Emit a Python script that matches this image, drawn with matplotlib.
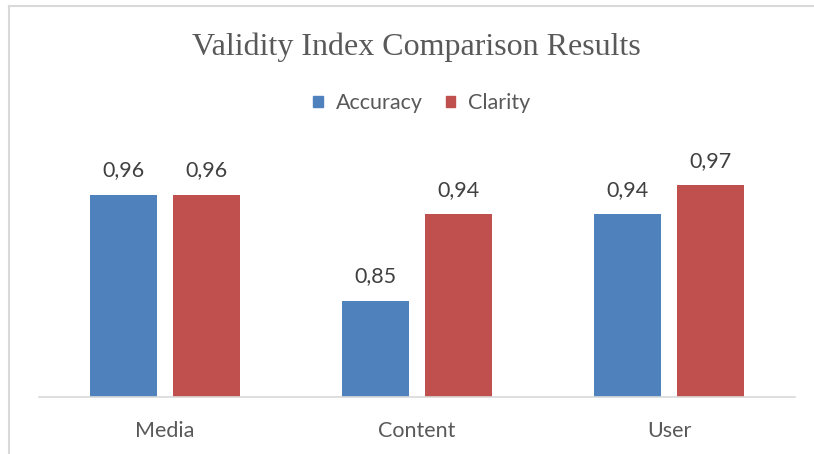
import numpy as np
import matplotlib.pyplot as plt
from matplotlib.patches import Rectangle
from matplotlib.lines import Line2D

# Chart data
categories = ["Media", "Content", "User"]
accuracy = [0.96, 0.85, 0.94]
clarity = [0.96, 0.94, 0.97]
series_names = ["Accuracy", "Clarity"]

blue = "#4F81BD"
red = "#C0504D"
label_font = "Lato"
fs = 15.5

fig = plt.figure(figsize=(8.14, 4.54), dpi=100)

# chart frame (top and left edges visible, rest cut off)
fig.add_artist(Line2D([9/814, 9/814], [0, 1 - 6/454], color="#d9d9d9", lw=1.5))
fig.add_artist(Line2D([9/814, 1], [1 - 6/454, 1 - 6/454], color="#d9d9d9", lw=1.5))

ax = fig.add_axes([39/814, 57/454, 756/814, 241/454])

x = np.arange(len(categories))
w = 0.266
off = 0.165
b1 = ax.bar(x - off, accuracy, w, color=blue, zorder=2)
b2 = ax.bar(x + off, clarity, w, color=red, zorder=2)

ax.set_xlim(-0.5, 2.5)
ax.set_ylim(0.75, 1.0)

for bars, vals in [(b1, accuracy), (b2, clarity)]:
    for rect, v in zip(bars, vals):
        ax.text(rect.get_x() + rect.get_width() / 2, v + 0.025,
                f"{v:.2f}".replace(".", ","), ha="center", va="center",
                fontsize=fs, color="#404040", family=label_font)

for s in ["top", "right", "left"]:
    ax.spines[s].set_visible(False)
ax.spines["bottom"].set_color("#d9d9d9")
ax.spines["bottom"].set_linewidth(1.2)
ax.set_yticks([])
ax.set_xticks(x)
ax.set_xticklabels(categories, fontsize=fs, color="#595959", family=label_font)
ax.tick_params(axis="x", length=0, pad=17)

fig.text(416.5/814, 1 - 47/454, "Validity Index Comparison Results", ha="center", va="center",
         fontsize=23, color="#595959", family="Liberation Serif")

# legend
handles = [Rectangle((0, 0), 1, 1, color=blue), Rectangle((0, 0), 1, 1, color=red)]
fig.legend(handles, series_names, loc="center", bbox_to_anchor=(422/814, 1 - 103/454),
           ncol=2, frameon=False, handlelength=0.45, handleheight=0.45,
           handletextpad=0.6, columnspacing=1.05, labelcolor="#595959",
           prop={"family": label_font, "size": fs})

fig.savefig("out.png", dpi=100)
